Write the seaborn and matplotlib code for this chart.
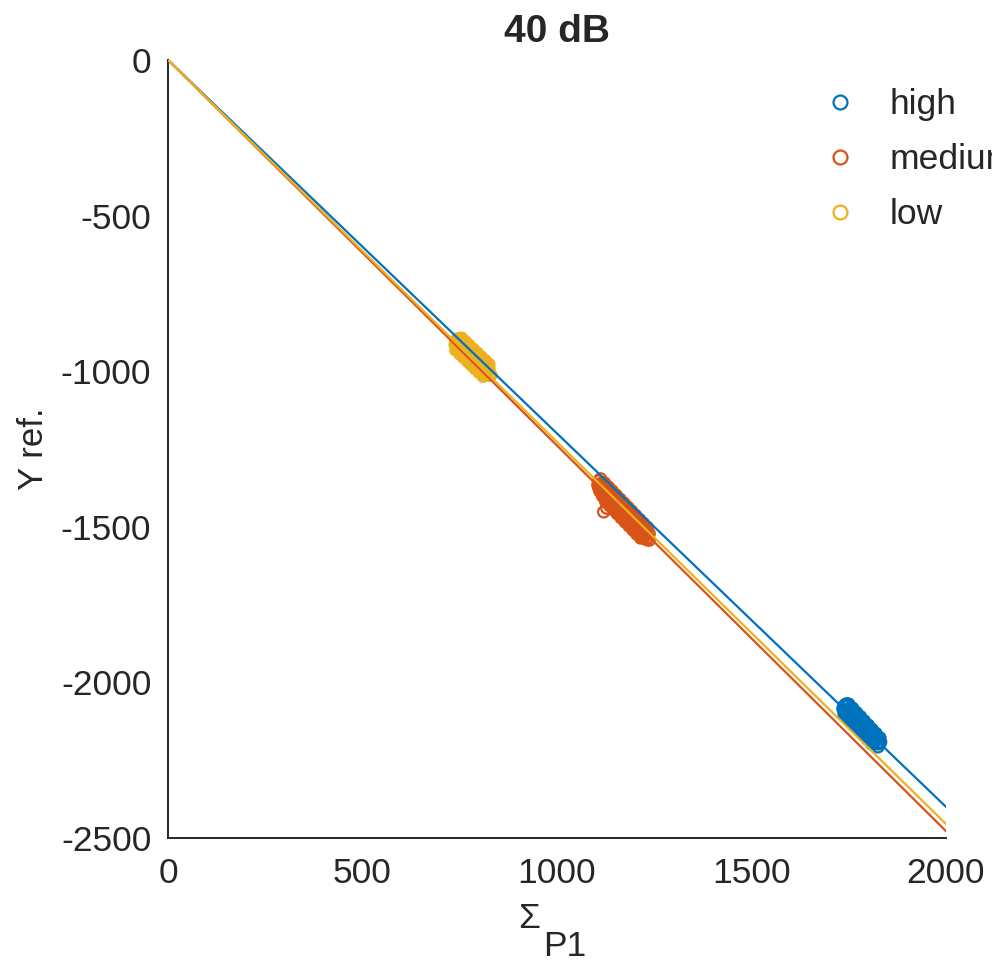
import pandas as pd
import numpy as np
import matplotlib.pyplot as plt
import seaborn as sns
from matplotlib.lines import Line2D

# clusters (sum of P1 vs Y ref), written row by row
low_x = [755, 765, 775, 785, 795, 805, 815, 825,
         750, 760, 770, 780, 790, 800, 810, 820,
         745, 755, 765, 775, 785, 795, 805, 815, 825,
         742, 752, 762, 772, 782, 792, 802, 812, 822,
         740, 750, 760, 770, 780, 790, 800, 810, 820, 830,
         745, 755, 765, 775, 785, 795, 805, 815, 825,
         738, 748, 758, 768, 778, 788, 798, 808, 818,
         742, 752, 762, 772, 782, 792, 802, 812,
         740, 750, 760, 770, 780, 790, 800, 810]
low_y = [-894, -906, -918, -930, -942, -954, -966, -978,
         -895, -907, -919, -931, -943, -955, -967, -979,
         -896, -908, -920, -932, -944, -956, -968, -980, -992,
         -899, -911, -923, -935, -947, -959, -971, -983, -995,
         -904, -916, -928, -940, -952, -964, -976, -988, -1000, -1012,
         -917, -929, -941, -953, -965, -977, -989, -1001, -1013,
         -915, -927, -939, -951, -963, -975, -987, -999, -1011,
         -927, -939, -951, -963, -975, -987, -999, -1011,
         -932, -944, -956, -968, -980, -992, -1004, -1016]

med_x = [1112, 1122, 1132, 1142, 1152, 1162, 1172, 1182, 1192, 1202, 1212, 1222, 1232,
         1117, 1127, 1137, 1147, 1157, 1167, 1177, 1187, 1197, 1207, 1217, 1227,
         1107, 1117, 1127, 1137, 1147, 1157, 1167, 1177, 1187, 1197, 1207, 1217, 1227, 1237,
         1110, 1120, 1130, 1140, 1150, 1160, 1170, 1180, 1190, 1200, 1210, 1220, 1230,
         1105, 1115, 1125, 1135, 1145, 1155, 1165, 1175, 1185, 1195, 1205, 1215, 1225, 1235,
         1107, 1117, 1127, 1137, 1147, 1157, 1167, 1177, 1187, 1197, 1207, 1217, 1227, 1237,
         1110, 1120, 1130, 1140, 1150, 1160, 1170, 1180, 1190, 1200, 1210, 1220, 1230,
         1117, 1127, 1137, 1147, 1157, 1167, 1177, 1187, 1197, 1207, 1217,
         1125, 1135, 1145, 1155, 1165, 1175, 1185, 1195, 1205, 1215,
         1120, 1128]
med_y = [-1346, -1359, -1372, -1385, -1398, -1411, -1424, -1437, -1450, -1463, -1476, -1489, -1502,
         -1359, -1372, -1385, -1398, -1411, -1424, -1437, -1450, -1463, -1476, -1489, -1502,
         -1353, -1366, -1379, -1392, -1405, -1418, -1431, -1444, -1457, -1470, -1483, -1496, -1509, -1522,
         -1364, -1377, -1390, -1403, -1416, -1429, -1442, -1455, -1468, -1481, -1494, -1507, -1520,
         -1365, -1378, -1391, -1404, -1417, -1430, -1443, -1456, -1469, -1482, -1495, -1508, -1521, -1534,
         -1374, -1387, -1400, -1413, -1426, -1439, -1452, -1465, -1478, -1491, -1504, -1517, -1530, -1543,
         -1385, -1398, -1411, -1424, -1437, -1450, -1463, -1476, -1489, -1502, -1515, -1528, -1541,
         -1401, -1414, -1427, -1440, -1453, -1466, -1479, -1492, -1505, -1518, -1531,
         -1419, -1432, -1445, -1458, -1471, -1484, -1497, -1510, -1523, -1536,
         -1452, -1440]

high_x = [1750, 1760, 1770, 1780, 1790, 1800, 1810, 1820, 1830,
          1745, 1755, 1765, 1775, 1785, 1795, 1805, 1815, 1825,
          1742, 1752, 1762, 1772, 1782, 1792, 1802, 1812, 1822, 1832,
          1740, 1750, 1760, 1770, 1780, 1790, 1800, 1810, 1820, 1830,
          1737, 1747, 1757, 1767, 1777, 1787, 1797, 1807, 1817, 1827,
          1742, 1752, 1762, 1772, 1782, 1792, 1802, 1812, 1822,
          1735, 1745, 1755, 1765, 1775, 1785, 1795, 1805, 1815, 1825,
          1740, 1750, 1760, 1770, 1780, 1790, 1800, 1810,
          1738, 1748, 1758, 1768, 1778, 1788, 1798, 1808]
high_y = [-2070, -2083, -2097, -2110, -2124, -2137, -2151, -2164, -2178,
          -2069, -2082, -2096, -2109, -2123, -2136, -2150, -2163, -2177,
          -2071, -2084, -2098, -2111, -2125, -2138, -2152, -2165, -2179, -2192,
          -2074, -2088, -2101, -2115, -2128, -2142, -2155, -2169, -2182, -2196,
          -2076, -2089, -2103, -2116, -2130, -2143, -2157, -2170, -2184, -2197,
          -2089, -2102, -2116, -2129, -2143, -2156, -2170, -2183, -2197,
          -2085, -2099, -2112, -2126, -2139, -2153, -2166, -2180, -2193, -2207,
          -2098, -2112, -2125, -2139, -2152, -2166, -2179, -2193,
          -2101, -2115, -2128, -2142, -2155, -2169, -2182, -2196]

# fitted lines through the origin
fit_x = [0, 2000]
fit_end = {'high': -2400, 'medium': -2478, 'low': -2455}

groups = ['high', 'medium', 'low']
colors = {'high': '#0072BD', 'medium': '#D95319', 'low': '#EDB120'}

pts = pd.concat([
    pd.DataFrame({'x': high_x, 'y': high_y, 'group': 'high'}),
    pd.DataFrame({'x': med_x, 'y': med_y, 'group': 'medium'}),
    pd.DataFrame({'x': low_x, 'y': low_y, 'group': 'low'}),
])
lines = pd.concat([
    pd.DataFrame({'x': fit_x, 'y': [0, fit_end[g]], 'group': g}) for g in groups
])

sns.set_style('white')
plt.rcParams['font.family'] = ['Liberation Sans', 'DejaVu Sans']
plt.rcParams['axes.unicode_minus'] = False
dark = '#262626'
fs = 25.5

fig = plt.figure(figsize=(9.92, 9.64), dpi=100)
ax = fig.add_axes([168 / 992, 1 - 838 / 964, 778 / 992, 778 / 964])

for g in groups:
    sns.scatterplot(data=pts[pts.group == g], x='x', y='y', color=colors[g],
                    s=65, ax=ax, legend=False, zorder=2)
    coll = ax.collections[-1]
    coll.set_edgecolors(colors[g])
    coll.set_facecolors('none')
    coll.set_linewidths(1.6)

sns.lineplot(data=lines, x='x', y='y', hue='group', hue_order=groups,
             palette=colors, linewidth=1.6, ax=ax, legend=False, zorder=3)

ax.set_xlim(0, 2000)
ax.set_ylim(-2500, 0)
ax.set_xticks([0, 500, 1000, 1500, 2000])
ax.set_yticks([0, -500, -1000, -1500, -2000, -2500])
ax.tick_params(direction='in', length=8, width=1.2, colors=dark, labelsize=fs)
ax.tick_params(axis='x', pad=14)
ax.tick_params(axis='y', pad=12)
sns.despine(ax=ax)
for sp in ['left', 'bottom']:
    ax.spines[sp].set_color(dark)
    ax.spines[sp].set_linewidth(1.4)

ax.set_xlabel('')
ax.set_ylabel('Y ref.', fontsize=25, color=dark, labelpad=8)
ax.set_title('40 dB', fontsize=28, fontweight='bold', pad=13)

fig.text(529 / 992, 1 - 918 / 964, 'Σ', fontsize=fs, color=dark,
         ha='center', va='center')
fig.text(565 / 992, 1 - 946 / 964, 'P1', fontsize=fs, color=dark,
         ha='center', va='center')

handles = [Line2D([], [], linestyle='none', marker='o', markersize=10,
                  markerfacecolor='none', markeredgecolor=colors[g],
                  markeredgewidth=1.6) for g in groups]
fig.legend(handles, groups, loc='upper left', bbox_to_anchor=(822 / 992, 1 - 88 / 964),
           frameon=False, fontsize=fs, handlelength=1.0, handletextpad=0.9,
           labelspacing=0.62, borderpad=0, borderaxespad=0)

fig.savefig('out.png', dpi=100)
